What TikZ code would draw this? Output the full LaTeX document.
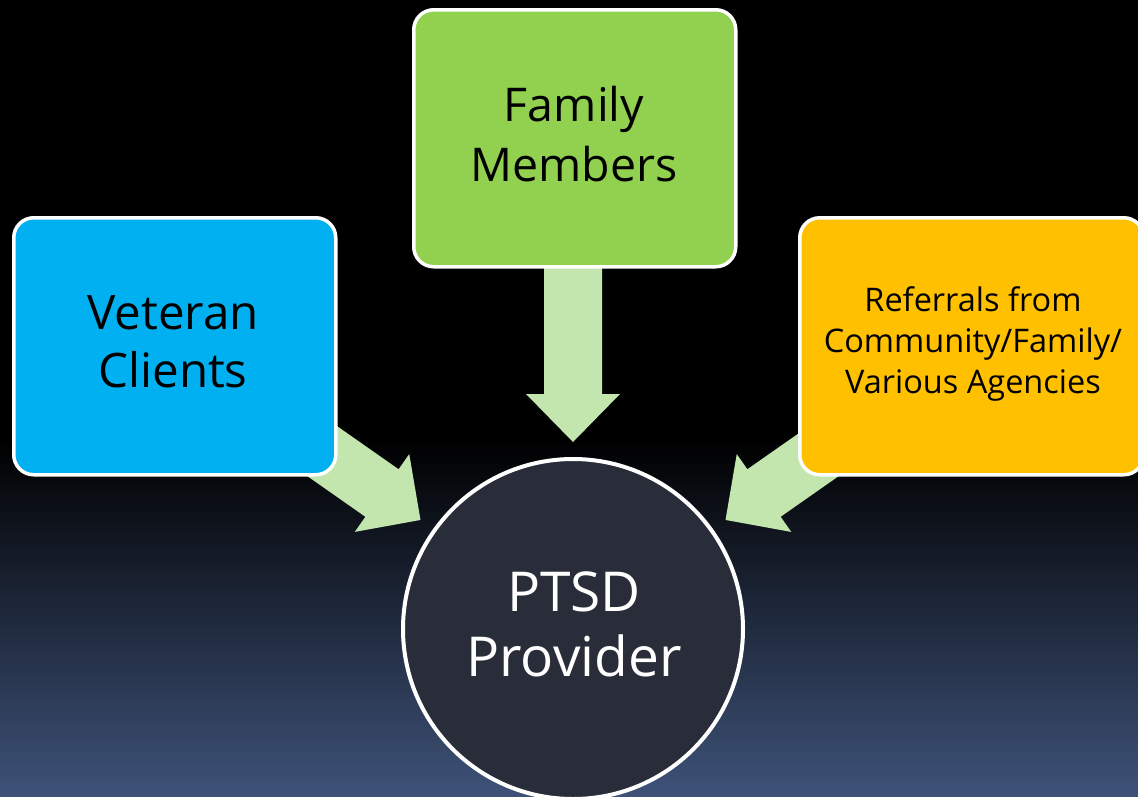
\documentclass[tikz,border=0pt]{standalone}
\usepackage{fontspec}
\setmainfont{Open Sans}
\definecolor{bgbot}{RGB}{62,82,120}
\definecolor{boxblue}{RGB}{0,176,240}
\definecolor{boxgreen}{RGB}{146,208,80}
\definecolor{boxorange}{RGB}{255,192,0}
\definecolor{arrowgreen}{RGB}{195,229,174}
\definecolor{circfill}{RGB}{40,45,57}
\tikzset{
  box/.style={draw=white, line width=3.5pt, rounded corners=20pt},
  bigarrow/.style={fill=arrowgreen, draw=none},
  lbl/.style={align=center, text=black, inner sep=0pt}
}
\newcommand{\myarrow}[3]{% center x, center y, angle
  \begin{scope}[shift={(#1,#2)}, rotate=#3]
    \path[bigarrow] (-150,29) -- (0,29) -- (0,47.5) -- (47,0) -- (0,-47.5) -- (0,-29) -- (-150,-29) -- cycle;
  \end{scope}}
\begin{document}
\begin{tikzpicture}[x=1pt,y=-1pt]
\useasboundingbox (0,0) rectangle (1138,796);
\clip (0,0) rectangle (1138,796);
\fill[black] (0,0) rectangle (1138,796);
\shade[top color=black, bottom color=bgbot] (0,440) rectangle (1138,796);
% arrows (behind boxes)
\path[bigarrow] (544,240) -- (602,240) -- (602,394) -- (620,394) -- (573,442) -- (526,394) -- (544,394) -- cycle;
\myarrow{382}{493}{-35}
\myarrow{764}{493}{215}
% boxes
\node[box, fill=boxblue, minimum width=322pt, minimum height=257pt, anchor=north west] (vet) at (12,216) {};
\node[lbl, font=\fontsize{47.5}{58}\selectfont] (vett) at (173,342) {Veteran\\Clients};
\node[box, fill=boxgreen, minimum width=322pt, minimum height=257pt, anchor=north west] (fam) at (412,8) {};
\node[lbl, font=\fontsize{46.5}{60}\selectfont] (famt) at (574,134) {Family\\Members};
\node[box, fill=boxorange, minimum width=344pt, minimum height=257pt, anchor=north west] (ref) at (798,216) {};
\node[lbl, font=\fontsize{32.5}{41}\selectfont] (reft) at (973,344) {Referrals from\\Community/Family/\\Various Agencies};
% circle
\node[circle, draw=white, line width=4pt, fill=circfill, minimum size=340pt, inner sep=0pt] (ptsd) at (573,629) {};
\node[lbl, text=white, font=\fontsize{55}{65}\selectfont] (ptsdt) at (574,624) {PTSD\\Provider};
\end{tikzpicture}
\end{document}
